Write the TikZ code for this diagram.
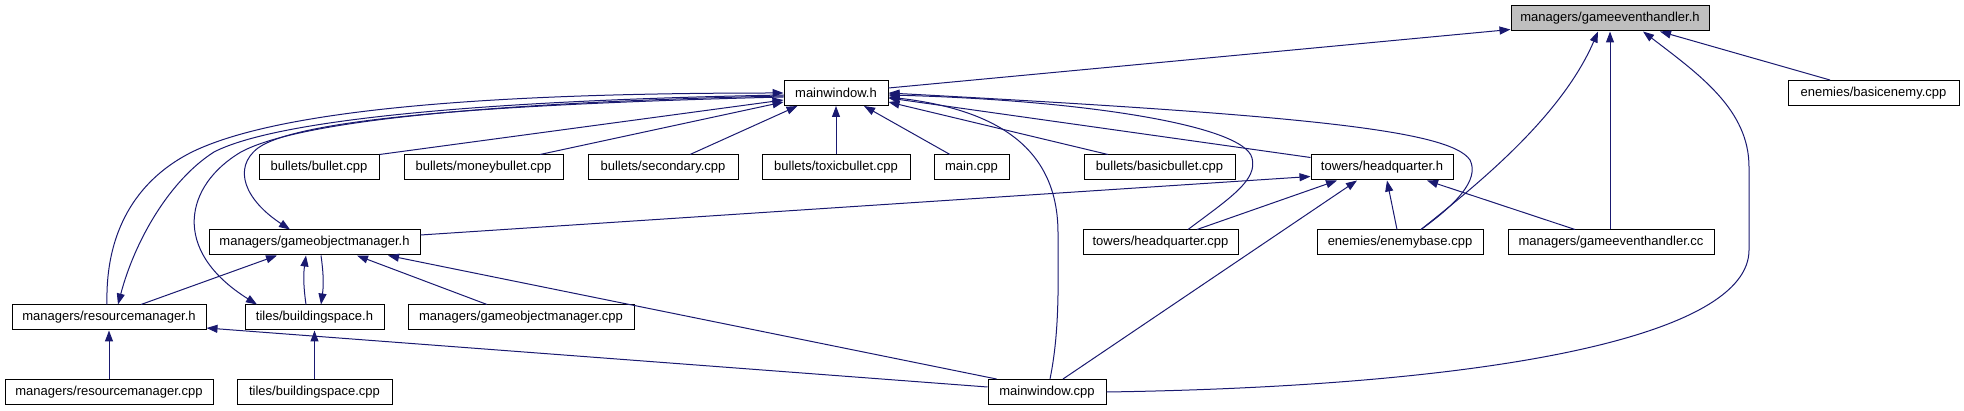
\documentclass[tikz,border=0pt]{standalone}
\usepackage{fontspec}
\setmainfont{Liberation Sans}
\usetikzlibrary{arrows.meta}
\definecolor{edgeblue}{RGB}{25,25,112}
\definecolor{rootgray}{RGB}{191,191,191}

\begin{document}
\begin{tikzpicture}[x=1pt,y=-1pt,>={Triangle[length=11pt,width=8pt]},
  file/.style={draw=black,line width=1pt,fill=white,minimum height=25pt,inner sep=0pt,font=\fontsize{13}{15}\selectfont},
  root/.style={file,fill=rootgray},
  inc/.style={->,edgeblue,line width=1pt}]
  \useasboundingbox (0,0) rectangle (1964,411);
  % files, row by row
  \node[root,minimum width=198pt] (geh) at (1610,18.5) {managers/gameeventhandler.h};
  \node[file,minimum width=104pt] (mwh) at (836,93) {mainwindow.h};
  \node[file,minimum width=171pt] (bec) at (1873.5,93) {enemies/basicenemy.cpp};
  \node[file,minimum width=120pt] (bul) at (319,167.5) {bullets/bullet.cpp};
  \node[file,minimum width=159pt] (mon) at (483.5,167.5) {bullets/moneybullet.cpp};
  \node[file,minimum width=150pt] (sec) at (663,167.5) {bullets/secondary.cpp};
  \node[file,minimum width=148pt] (tox) at (836,167.5) {bullets/toxicbullet.cpp};
  \node[file,minimum width=75pt] (mainc) at (971.5,167.5) {main.cpp};
  \node[file,minimum width=151pt] (bas) at (1159.5,167.5) {bullets/basicbullet.cpp};
  \node[file,minimum width=142pt] (hqh) at (1382,167.5) {towers/headquarter.h};
  \node[file,minimum width=211pt] (gomh) at (314.5,242.5) {managers/gameobjectmanager.h};
  \node[file,minimum width=155pt] (hqc) at (1160.5,242.5) {towers/headquarter.cpp};
  \node[file,minimum width=166pt] (ebc) at (1400,242.5) {enemies/enemybase.cpp};
  \node[file,minimum width=206pt] (gecc) at (1611,242.5) {managers/gameeventhandler.cc};
  \node[file,minimum width=194pt] (rmh) at (109,317.5) {managers/resourcemanager.h};
  \node[file,minimum width=139pt] (bsh) at (314.5,317.5) {tiles/buildingspace.h};
  \node[file,minimum width=226pt] (gomc) at (521,317.5) {managers/gameobjectmanager.cpp};
  \node[file,minimum width=208pt] (rmc) at (109,392) {managers/resourcemanager.cpp};
  \node[file,minimum width=155pt] (bsc) at (314.5,392) {tiles/buildingspace.cpp};
  \node[file,minimum width=118pt] (mwc) at (1047,392) {mainwindow.cpp};
  % into the root
  \draw[inc] ([yshift=5pt]mwh.east) -- ([yshift=-11pt]geh.west);
  \draw[inc] ([xshift=-43.5pt]bec.north) -- ([xshift=50pt]geh.south);
  \draw[inc] ([xshift=21pt]ebc.north) .. controls (1470,190) and (1560,120) .. ([xshift=-12pt]geh.south);
  \draw[inc] (gecc.north -| geh.south) -- (geh.south);
  \draw[inc] (mwc.east) .. controls (1500,386) and (1749,335) .. (1749,250) -- (1749,167) .. controls (1749,110) and (1700,75) .. ([xshift=33pt]geh.south);
  % into mainwindow.h
  \draw[inc] (bul.north east) -- ([yshift=-7pt]mwh.west);
  \draw[inc] ([xshift=56.5pt]mon.north) -- ([yshift=-9pt]mwh.west);
  \draw[inc] ([xshift=27pt]sec.north) -- ([xshift=14pt]mwh.south west);
  \draw[inc] (tox.north) -- (mwh.south);
  \draw[inc] ([xshift=-21.5pt]mainc.north) -- ([xshift=28pt]mwh.south);
  \draw[inc] ([xshift=-51.5pt]bas.north) -- ([yshift=-9pt]mwh.east);
  \draw[inc] ([yshift=10pt]hqh.west) -- ([yshift=-5pt]mwh.east);
  \draw[inc] ([xshift=27.5pt]hqc.north) .. controls (1230,198) and (1258,180) .. (1252,158) .. controls (1244,125) and (1080,100) .. ([yshift=-2pt]mwh.east);
  \draw[inc] ([xshift=21pt]ebc.north) .. controls (1455,205) and (1480,180) .. (1470,160) .. controls (1450,130) and (1300,115) .. (mwh.east);
  \draw[inc] ([xshift=3pt]mwc.north) .. controls (1060,330) and (1058,280) .. (1058,233) .. controls (1058,150) and (1000,110) .. ([yshift=-4pt]mwh.east);
  \draw[inc] ([xshift=-2pt]rmh.north) .. controls (105,225) and (142,177) .. (192,152) .. controls (272,113) and (460,93) .. (mwh.west);
  % back edges out of mainwindow.h
  \draw[inc] ([yshift=-2pt]mwh.west) .. controls (500,100) and (280,118) .. (214,152) .. controls (170,180) and (135,240) .. ([xshift=9pt]rmh.north);
  \draw[inc] ([yshift=-3pt]mwh.west) .. controls (500,102) and (300,120) .. (241,152) .. controls (185,185) and (170,250) .. ([xshift=-57.5pt]bsh.north);
  \draw[inc] ([yshift=-4pt]mwh.west) .. controls (500,104) and (300,118) .. (258,148) .. controls (232,168) and (245,200) .. ([xshift=-24.5pt]gomh.north);
  % gameobjectmanager.h and the lower rows
  \draw[inc] ([yshift=7.5pt]gomh.east) -- ([yshift=-9pt]hqh.west);
  \draw[inc] ([xshift=32pt]rmh.north) -- ([xshift=-37.5pt]gomh.south);
  \draw[inc] ([xshift=-8.5pt]bsh.north) to[bend left=8] ([xshift=-8.5pt]gomh.south);
  \draw[inc] ([xshift=6.5pt]gomh.south) to[bend left=8] ([xshift=6.5pt]bsh.north);
  \draw[inc] ([xshift=-34pt]gomc.north) -- ([xshift=42.5pt]gomh.south);
  \draw[inc] ([xshift=9pt]mwc.north west) -- ([xshift=73.5pt]gomh.south);
  \draw[inc] ([yshift=5pt]mwc.west) -- ([yshift=-10.5pt]rmh.east);
  \draw[inc] (rmc.north) -- (rmh.south);
  \draw[inc] (bsc.north) -- (bsh.south);
  % into headquarter.h
  \draw[inc] ([xshift=36.5pt]hqc.north) -- ([xshift=-45pt]hqh.south);
  \draw[inc] ([xshift=16pt]mwc.north) -- ([xshift=-25pt]hqh.south);
  \draw[inc] ([xshift=-3pt]ebc.north) -- ([xshift=5pt]hqh.south);
  \draw[inc] ([xshift=-36pt]gecc.north) -- ([xshift=45pt]hqh.south);
\end{tikzpicture}
\end{document}
